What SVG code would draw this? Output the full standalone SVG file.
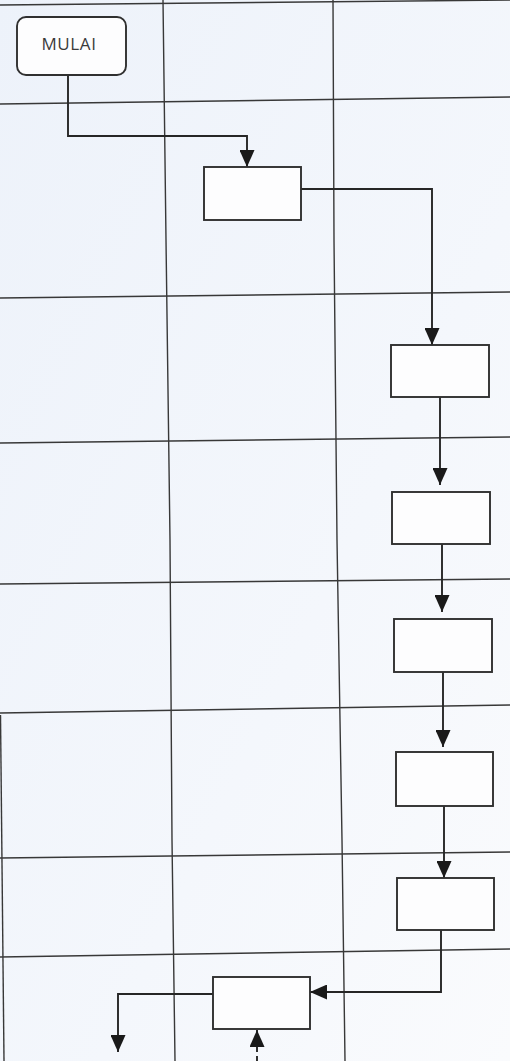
<svg xmlns="http://www.w3.org/2000/svg" width="510" height="1061" viewBox="0 0 510 1061">
<defs>
<linearGradient id="bg" x1="0" y1="0" x2="1" y2="1">
<stop offset="0" stop-color="#edf2fa"/>
<stop offset="0.6" stop-color="#f4f7fc"/>
<stop offset="1" stop-color="#fafbfd"/>
</linearGradient>
<marker id="ah" viewBox="0 0 17 15" refX="17" refY="7.5" markerWidth="17" markerHeight="15" markerUnits="userSpaceOnUse" orient="auto">
<path d="M0,0 L17,7.5 L0,15 Z" fill="#1a1a1a"/>
</marker>
</defs>
<style>
.grid{stroke:#383838;stroke-width:1.4;fill:none}
.box{fill:#fdfdfe;stroke:#303030;stroke-width:1.9}
.conn{stroke:#262626;stroke-width:1.9;fill:none}
.lbl{font-family:"Open Sans","Liberation Sans",sans-serif;font-size:17px;fill:#3a3a3a;letter-spacing:0.6px}
</style>
<rect x="0" y="0" width="510" height="1061" fill="url(#bg)"/>
<g id="grid">
<line class="grid" x1="0" y1="5" x2="510" y2="0"/>
<line class="grid" x1="0" y1="104" x2="510" y2="97"/>
<line class="grid" x1="0" y1="298" x2="510" y2="292"/>
<line class="grid" x1="0" y1="443" x2="510" y2="437"/>
<line class="grid" x1="0" y1="584" x2="510" y2="579"/>
<line class="grid" x1="0" y1="713" x2="510" y2="705"/>
<line class="grid" x1="0" y1="858" x2="510" y2="852"/>
<line class="grid" x1="0" y1="957" x2="510" y2="949"/>
<polyline class="grid" points="163,0 166,240 170,540 172,840 175,1061"/>
<polyline class="grid" points="333,0 334,240 337,540 342,840 345,1061"/>
<line class="grid" x1="0.5" y1="715" x2="4" y2="1061"/>
</g>
<g id="connectors">
<polyline class="conn" points="68,75 68,136 247,136 247,167" marker-end="url(#ah)"/>
<polyline class="conn" points="301,189 432,189 432,345" marker-end="url(#ah)"/>
<line class="conn" x1="440" y1="397" x2="440" y2="485" marker-end="url(#ah)"/>
<line class="conn" x1="442" y1="544" x2="442" y2="612" marker-end="url(#ah)"/>
<line class="conn" x1="443" y1="672" x2="443" y2="747" marker-end="url(#ah)"/>
<line class="conn" x1="444" y1="806" x2="444" y2="878" marker-end="url(#ah)"/>
<polyline class="conn" points="441,930 441,992 310,992" marker-end="url(#ah)"/>
<polyline class="conn" points="213,994 118,994 118,1052" marker-end="url(#ah)"/>
<line class="conn" x1="257" y1="1061" x2="257" y2="1030" stroke-dasharray="5,4" marker-end="url(#ah)"/>
</g>
<g id="mulai">
<rect class="box" x="17" y="17" width="109" height="58" rx="9"/>
<text class="lbl" x="69" y="50" text-anchor="middle">MULAI</text>
</g>
<g id="p1"><rect class="box" x="204" y="167" width="97" height="53"/></g>
<g id="p2"><rect class="box" x="391" y="345" width="98" height="52"/></g>
<g id="p3"><rect class="box" x="392" y="492" width="98" height="52"/></g>
<g id="p4"><rect class="box" x="394" y="619" width="98" height="53"/></g>
<g id="p5"><rect class="box" x="396" y="752" width="97" height="54"/></g>
<g id="p6"><rect class="box" x="397" y="878" width="97" height="52"/></g>
<g id="p7"><rect class="box" x="213" y="977" width="97" height="52"/></g>
</svg>
